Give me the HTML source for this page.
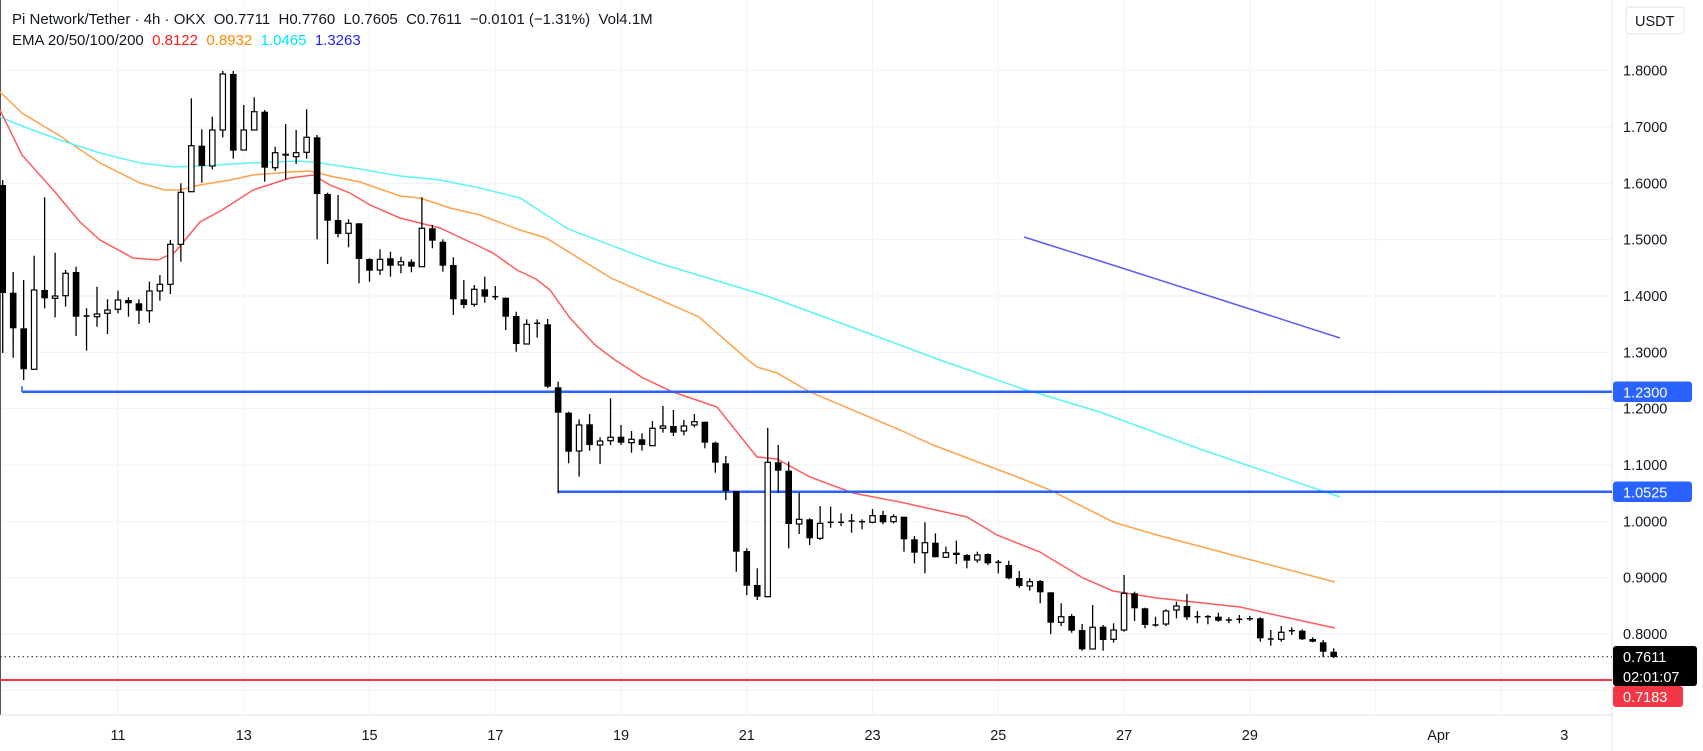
<!DOCTYPE html>
<html><head><meta charset="utf-8"><style>
html,body{margin:0;padding:0;background:#fff;}
body{width:1703px;height:751px;overflow:hidden;position:relative;font-family:"Liberation Sans",sans-serif;color:#131722;}
svg{position:absolute;left:0;top:0;}
.hd{position:absolute;left:12px;font-size:15px;white-space:pre;color:#131722;}
</style></head><body>
<svg id="c" width="1703" height="751" xmlns="http://www.w3.org/2000/svg"></svg>
<div class="hd" style="top:11px">Pi Network/Tether · 4h · OKX  O0.7711  H0.7760  L0.7605  C0.7611  −0.0101 (−1.31%)  Vol4.1M</div>
<div class="hd" style="top:32px">EMA 20/50/100/200  <span style="color:#ff1a1a">0.8122</span>  <span style="color:#ff8a00">0.8932</span>  <span style="color:#00e5ff">1.0465</span>  <span style="color:#2323ff">1.3263</span></div>
<script>
const S='http://www.w3.org/2000/svg';const svg=document.getElementById('c');
function el(t,a,txt){const e=document.createElementNS(S,t);for(const k in a)e.setAttribute(k,a[k]);if(txt!=null)e.textContent=txt;svg.appendChild(e);return e;}
const R=1612;
for(let d=11;d<=35;d+=2){const x=118+(d-11)*62.88;el('line',{x1:x,y1:0,x2:x,y2:715,stroke:'#f0f2f5','stroke-width':1});}
for(let n=0;n<=11;n++){const y=70.6+n*56.34;el('line',{x1:0,y1:y,x2:R,y2:y,stroke:'#f0f2f5','stroke-width':1});}
el('line',{x1:R,y1:0,x2:R,y2:751,stroke:'#e0e3eb','stroke-width':1});
el('line',{x1:0.5,y1:0,x2:0.5,y2:715,stroke:'#555','stroke-width':1});
el('line',{x1:0,y1:715,x2:R,y2:715,stroke:'#e0e3eb','stroke-width':1});
function pl(pts,c,w){el('polyline',{points:pts.map(p=>p.join(',')).join(' '),fill:'none',stroke:c,'stroke-width':w||1.5});}
pl([[0,92],[22,113],[60,136],[100,163],[140,183],[165,190],[180,190],[200,185],[230,180],[253,175],[290,172],[310,171],[330,176],[360,182],[400,196],[420,198],[450,208],[480,215],[520,230],[546,238],[611,278],[699,317],[748,360],[757,367],[777,373],[810,392],[900,430],[933,445],[1020,478],[1050,490],[1113,522],[1157,535],[1240,557],[1335,582]],'#ffa24c');
pl([[0,117],[22,126],[60,140],[100,153],[140,163],[175,167],[200,166],[250,163],[300,161],[320,163],[360,169],[400,176],[440,180],[480,188],[520,198],[568,229],[655,262],[721,282],[764,295],[808,311],[873,335],[940,360],[1020,388],[1100,412],[1200,449],[1340,497]],'#5cf5f5');
pl([[0,110],[22,155],[55,192],[80,222],[100,240],[133,258],[158,260],[175,252],[200,222],[222,210],[253,190],[290,178],[313,175],[330,185],[350,193],[370,205],[400,218],[440,228],[470,242],[493,253],[517,270],[536,279],[550,290],[570,318],[595,345],[615,360],[643,378],[673,392],[717,407],[733,427],[757,457],[777,459],[810,477],[853,493],[900,502],[967,517],[997,535],[1040,552],[1083,578],[1113,591],[1157,598],[1240,607],[1280,616],[1335,628]],'#ff5c5c');
pl([[1024,237],[1100,261],[1200,293],[1340,338]],'#5b5bf5');
el('line',{x1:22,y1:391.7,x2:R,y2:391.7,stroke:'#2962ff','stroke-width':2.5});
el('line',{x1:22,y1:386,x2:22,y2:392,stroke:'#2962ff','stroke-width':1.5});
el('line',{x1:558,y1:491.7,x2:R,y2:491.7,stroke:'#2962ff','stroke-width':2.5});
el('line',{x1:0,y1:680,x2:R,y2:680,stroke:'#f23645','stroke-width':2});
el('line',{x1:0,y1:656.7,x2:R,y2:656.7,stroke:'#131722','stroke-width':1,'stroke-dasharray':'1.5,3'});
const D=[[185,293,180,353,0],[292.7,328.3,272,357.7,0],[328.3,369.3,280,380,0],[290,369.3,255.7,369.3,1],[290,298.3,197.3,308.3,0],[296,298.3,252.7,317.3,1],[273.3,295.7,270,306.7,1],[272,316.7,266.7,336,0],[316,316,308.3,350.7,2],[314,316.7,286.7,326.7,1],[310,313.3,299.3,334,1],[300,309.3,290.7,313.3,1],[300,303.3,297.3,316.7,0],[303.3,310.7,299.3,324,0],[291,310.7,281.7,322.7,1],[284.3,291,275,300.7,1],[244.3,284.3,240,294,1],[192.3,244.3,183.3,261.7,1],[145.7,191.7,98.3,191.7,1],[145.7,166,129.3,182.7,0],[130,166,116.7,169.3,1],[74,130,71,137.3,1],[74,150.7,71,158.7,0],[130,150,105,150,1],[111.7,130,97.3,130,1],[111.7,167.7,110,181.7,0],[152.7,167.7,146.7,170.7,1],[153.7,155.7,124,179.3,0],[152.7,156.7,130,164,1],[137.3,152.3,109.3,158.7,1],[137.3,194,135,239.3,0],[194,220.7,192.7,264,0],[220,234,195,237.3,0],[223.3,233.3,219.3,247.3,1],[223.3,259,223.3,283.3,0],[259,270.7,258.3,281.7,0],[259.3,270,249.3,275,1],[258.3,265.7,251.7,276.7,0],[261.7,265,256.7,273.3,1],[261.7,266.7,259.3,272.3,0],[228.3,266.7,197.3,266.7,1],[228.3,240.7,225,248.3,0],[241.7,265.7,239.3,271.7,0],[265,299.3,257.3,315,0],[299.3,305,280,308.3,0],[289.3,304.3,285,306.7,1],[289.3,296.7,276.7,302.7,0],[296.7,296.7,286,300,2],[297.7,316.7,297.7,330,0],[316,344,311.7,351.7,0],[324.3,344,319.3,344,1],[323.3,323.3,319.3,337.7,2],
[324.3,386.7,319,388,0],[387.3,412.7,381.7,493.3,0],[412.7,451.7,411.7,463.3,0],[425,451,419.3,476.7,1],[424.3,445,414,450.7,0],[441,445,437.3,464,1],[437.3,440.7,398.3,445,1],[436.7,442.7,425,445,0],[439.3,442.7,431,452.7,1],[439.3,445,433.3,450.7,0],[428.3,445.7,421,446,1],[426,428.3,406,432.7,1],[426,432.7,410,436,0],[426,431,420,435.3,1],[421.7,425,414,427.3,1],[421.7,442.7,421.7,448.3,0],[442.7,462.7,441.7,472.7,0],[463.3,491,456,500,0],[491,551.7,491,571.7,0],[551,585.7,548.3,595,0],[585,596.7,568.3,600,0],[462.3,596.7,427.7,597.3,1],[462.3,470.7,445,492.7,0],[470.7,524,461.7,548.3,0],[519.3,524,492.7,534,1],[519.3,538.3,518.3,545,0],[523.3,538.3,506,540,1],[522.3,522.3,506.7,527.7,2],[522.3,522.3,513.3,526,2],[521,521,514,532.7,2],[521.7,521.7,519.3,529.3,2],[515.7,522.3,509,523.3,1],[515,522.3,510.7,524.3,0],[516.7,521.7,514.3,523.3,1],[516.7,539.3,516.7,551.7,0],[539.3,552.7,536,563.3,0],[542.7,552.7,522.3,573.3,1],[542.7,557.3,533.3,557.3,0],[552.7,557.3,546.7,557.3,1],[552.7,555,540.7,564,0],[555,560.7,554,568.3,0],[555,560,551.7,562.7,1],[554,563.3,553.3,565,0],[562.3,562.3,560,573.3,2],[565,578.3,560.7,579.3,0],
[578,586,571,587.7,0],[581.7,586,578.3,590.7,1],[581,592.3,580,603.3,0],[592.3,622.7,592.3,634.3,0],[616.7,622.3,603.3,626,1],[616,630.7,614,632.7,0],[630,649.3,624,650.7,0],[627.3,649,605,649,1],[626.7,640,625,650.7,0],[630,639.3,623.3,642.7,1],[593.3,630,575,631.7,1],[593.3,608.3,591.7,621,0],[608.3,625,607.7,628.3,0],[625,625,616.7,626.7,2],[611,624,609.3,626,1],[606,610,601.7,618.3,1],[606,617.3,594,620,0],[616.7,616.7,611,623.3,2],[616.7,616.7,615,624.3,2],[616.7,620.7,612.7,621.7,0],[620,620,617.3,623.3,2],[619.3,619.3,615,623.3,2],[618.7,618.7,616,621,2],[618.3,638.3,617.3,641.7,0],[639,639,630,645.7,2],[632.3,639.3,626,641.7,1],[630.7,630.7,627.3,635,2],[630.7,639.3,629.3,640,0],[639,641.7,637.3,642.3,0],[642.3,651.7,640,657,0],[651.7,657,648.3,658,0]];
D.forEach((c,i)=>{const x=2.7+i*10.48;
 el('line',{x1:x,y1:c[2],x2:x,y2:c[3],stroke:'#000','stroke-width':1.3});
 if(c[4]==2){el('line',{x1:x-3,y1:c[0],x2:x+3,y2:c[0],stroke:'#000','stroke-width':1.5});}
 else if(c[4]==1){el('rect',{x:x-2.7,y:c[0],width:5.4,height:Math.max(1,c[1]-c[0]),fill:'#fff',stroke:'#000','stroke-width':1.2});}
 else el('rect',{x:x-3.3,y:c[0],width:6.6,height:Math.max(1.5,c[1]-c[0]),fill:'#000'});
});
const P=['1.8000','1.7000','1.6000','1.5000','1.4000','1.3000','1.2000','1.1000','1.0000','0.9000','0.8000'];
P.forEach((t,n)=>{el('text',{x:1623,y:70.6+n*56.34+5,'font-size':14.5,fill:'#131722','font-family':'Liberation Sans, sans-serif'},t);});
function tag(y1,y2,bg,lines){el('rect',{x:1613,y:y1,width:lines.w,height:y2-y1,rx:3,fill:bg});lines.t.forEach((t,i)=>el('text',{x:1623,y:y1+16+i*20,'font-size':14.5,fill:'#fff','font-family':'Liberation Sans, sans-serif'},t));}
tag(381.5,402,'#2962ff',{w:79,t:['1.2300']});
tag(481.5,502,'#2962ff',{w:79,t:['1.0525']});
tag(646,686,'#000',{w:84,t:['0.7611','02:01:07']});
tag(686,707,'#f23645',{w:70,t:['0.7183']});
el('rect',{x:1626,y:7,width:58,height:27,rx:4,fill:'#fff',stroke:'#e0e3eb'});
el('text',{x:1635,y:26,'font-size':14.5,fill:'#131722','font-family':'Liberation Sans, sans-serif'},'USDT');
const L=[[11,'11'],[13,'13'],[15,'15'],[17,'17'],[19,'19'],[21,'21'],[23,'23'],[25,'25'],[27,'27'],[29,'29'],[32,'Apr'],[34,'3']];
L.forEach(([d,t])=>{el('text',{x:118+(d-11)*62.88,y:740,'font-size':14.5,fill:'#131722','text-anchor':'middle','font-family':'Liberation Sans, sans-serif'},t);});
</script>
</body></html>
